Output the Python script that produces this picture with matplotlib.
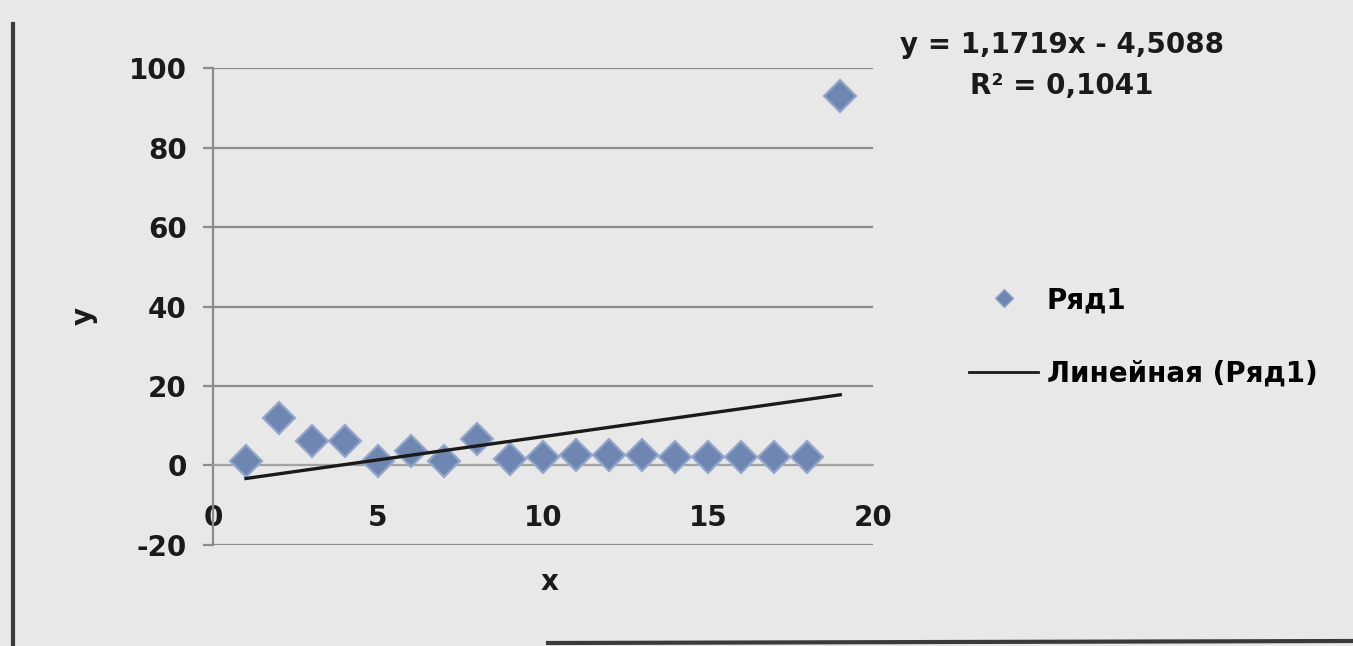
import matplotlib
matplotlib.use("Agg")
import matplotlib.pyplot as plt
from matplotlib.lines import Line2D
import numpy as np

plt.rcParams['font.family'] = ['DejaVu Sans']
plt.rcParams['axes.unicode_minus'] = False

# Data
x_values = [1, 2, 3, 4, 5, 6, 7, 8, 9, 10, 11, 12, 13, 14, 15, 16, 17, 18, 19]
y_values = [1, 12, 6, 6, 1, 3.5, 1, 6.5, 1.5, 2, 2.5, 2.5, 2.5, 2, 2, 2, 2, 2, 93]
trend_slope = 1.1719
trend_intercept = -4.5088
x_ticks = [0, 5, 10, 15, 20]
y_ticks = [-20, 0, 20, 40, 60, 80, 100]
series_name = "Ряд1"
trend_name = "Линейная (Ряд1)"
eq_text = "y = 1,1719x - 4,5088"
r2_text = "R² = 0,1041"

bg = '#e8e8e8'
fs = 20
fig = plt.figure(figsize=(13.53, 6.46), dpi=100, facecolor=bg)
ax = fig.add_axes([0.1574, 0.157, 0.488, 0.737], facecolor=bg)

ax.set_xlim(0, 20)
ax.set_ylim(-20, 100)
ax.set_yticks(y_ticks)
ax.set_xticks(x_ticks)
ax.yaxis.grid(True, color='#8c8c8c', linewidth=1.6)
ax.set_axisbelow(True)
for s in ['top', 'right']:
    ax.spines[s].set_visible(False)
ax.spines['left'].set_color('#8c8c8c')
ax.spines['left'].set_linewidth(1.6)
ax.spines['bottom'].set_position(('data', 0))
ax.spines['bottom'].set_color('#a8a8a8')
ax.spines['bottom'].set_linewidth(1.2)
ax.tick_params(axis='both', labelsize=fs, colors='#1a1a1a')
ax.tick_params(axis='y', length=7, width=1.6, color='#8c8c8c', pad=12)
ax.tick_params(axis='x', length=0, pad=28)
for lab in ax.get_xticklabels() + ax.get_yticklabels():
    lab.set_fontweight('bold')

ax.plot(x_values, y_values, linestyle='none', marker='D', markersize=16,
        markerfacecolor='#6f86b2', markeredgecolor='#94a7cb', markeredgewidth=1.6,
        zorder=3)
xt = np.array([min(x_values), max(x_values)])
ax.plot(xt, trend_slope * xt + trend_intercept, color='#1a1a1a', linewidth=2.4, zorder=4)

ax.set_xlabel('x', fontsize=fs, fontweight='bold', color='#1a1a1a')
ax.xaxis.set_label_coords(0.51, -0.05)
ax.set_ylabel('y', fontsize=fs, fontweight='bold', rotation=90, color='#1a1a1a')
ax.yaxis.set_label_coords(-0.175, 0.48)

fig.text(1062 / 1353, 1 - 45 / 646, eq_text, fontsize=fs, fontweight='bold',
         ha='center', va='center', color='#1a1a1a')
fig.text(1062 / 1353, 1 - 86 / 646, r2_text, fontsize=fs, fontweight='bold',
         ha='center', va='center', color='#1a1a1a')

handles = [Line2D([], [], linestyle='none', marker='D', markersize=9,
                  markerfacecolor='#6f86b2', markeredgecolor='#94a7cb'),
           Line2D([], [], color='#1a1a1a', linewidth=2)]
leg = fig.legend(handles, [series_name, trend_name], loc='center left',
                 bbox_to_anchor=(955 / 1353, 1 - 337 / 646), frameon=False,
                 prop={'size': 20, 'weight': 'bold'}, handlelength=2.5,
                 labelspacing=1.65, handletextpad=0.3, borderpad=0)

# chart frame lines
fig.add_artist(Line2D([13 / 1353, 13 / 1353], [0, 1 - 24 / 646], color='#3a3a3a', linewidth=3))
fig.add_artist(Line2D([548 / 1353, 1.0], [3 / 646, 5 / 646], color='#3a3a3a', linewidth=3))

fig.savefig('out.png', dpi=100, facecolor=bg)
